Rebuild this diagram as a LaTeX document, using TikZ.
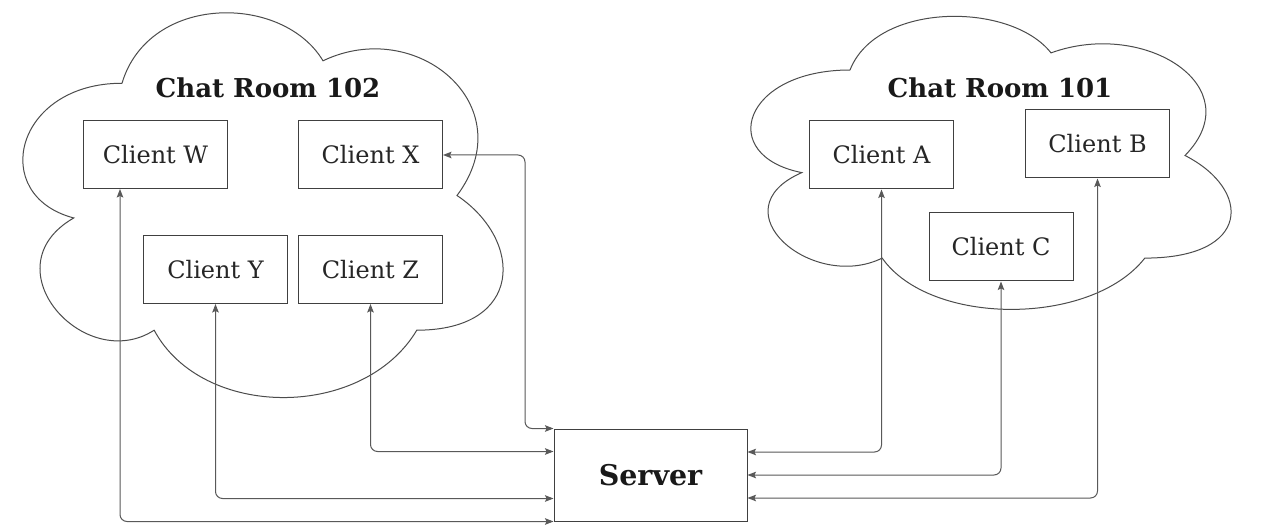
\documentclass[tikz,border=0pt]{standalone}
\usepackage{fontspec}
\setmainfont{DejaVu Serif}
\usetikzlibrary{arrows.meta,calc}
\tikzset{
  client/.style={draw=black!75, line width=1pt, minimum width=144pt, minimum height=68pt, inner sep=0pt, font=\fontsize{24}{28}\selectfont, text=black!85},
  title/.style={font=\bfseries\fontsize{26}{30}\selectfont, text=black!90, inner sep=0pt},
  srv/.style={draw=black!75, line width=1pt, minimum width=193pt, minimum height=92pt, inner sep=0pt, font=\bfseries\fontsize{28.5}{33}\selectfont, text=black!90},
  cloudline/.style={draw=black!70, line width=1pt},
  conn/.style={draw=black!65, line width=1pt, rounded corners=7pt, {Stealth[length=8.5pt,width=6.5pt,inset=1.5pt]}-{Stealth[length=8.5pt,width=6.5pt,inset=1.5pt]}}
}
\newcommand{\chatcloud}[4]{%
  \draw[cloudline, shift={(#1,#2)}, xscale=#3, yscale=#4]
    (0.25,0.25) .. controls (0.05,0.25) and (0,0.5) .. (0.16,0.55)
    .. controls (0,0.66) and (0.18,0.9) .. (0.31,0.8)
    .. controls (0.4,1) and (0.7,1) .. (0.8,0.8)
    .. controls (1,0.8) and (1,0.6) .. (0.875,0.5)
    .. controls (1,0.3) and (0.8,0.1) .. (0.625,0.2)
    .. controls (0.55,0.05) and (0.3,0.05) .. (0.25,0.25) -- cycle;}
\begin{document}
\begin{tikzpicture}[x=1pt,y=-1pt]
\useasboundingbox (0,0) rectangle (1261,529);
\fill[white] (0,0) rectangle (1261,529);
% clouds
\chatcloud{-12}{-29}{536}{449}
\chatcloud{716}{-15.5}{536}{342}
% titles
\node[title] (t102) at (268,88) {Chat Room 102};
\node[title] (t101) at (1000,88) {Chat Room 101};
% clients
\node[client] (W) at (155.5,155) {Client W};
\node[client] (X) at (370.5,155) {Client X};
\node[client] (Y) at (215.5,269.5) {Client Y};
\node[client] (Z) at (370.5,269.5) {Client Z};
\node[client] (A) at (881.5,155) {Client A};
\node[client] (B) at (1097.5,144) {Client B};
\node[client] (C) at (1001,247) {Client C};
% server
\node[srv] (S) at (650.5,475) {Server};
% helper coordinates
\coordinate (wB) at (120,189);
\coordinate (xc) at (525,155);
\coordinate (sZ) at ($(S.north west)+(0,23)$);
\coordinate (sY) at ($(S.south west)+(0,-23)$);
\coordinate (sA) at ($(S.east)+(0,-23)$);
\coordinate (sB) at ($(S.east)+(0,23)$);
% connectors
\draw[conn] (wB) |- (S.south west);
\draw[conn] (Y.south) |- (sY);
\draw[conn] (Z.south) |- (sZ);
\draw[conn] (X.east) -- (xc) |- (S.north west);
\draw[conn] (A.south) |- (sA);
\draw[conn] (C.south) |- (S.east);
\draw[conn] (B.south) |- (sB);
\end{tikzpicture}
\end{document}
